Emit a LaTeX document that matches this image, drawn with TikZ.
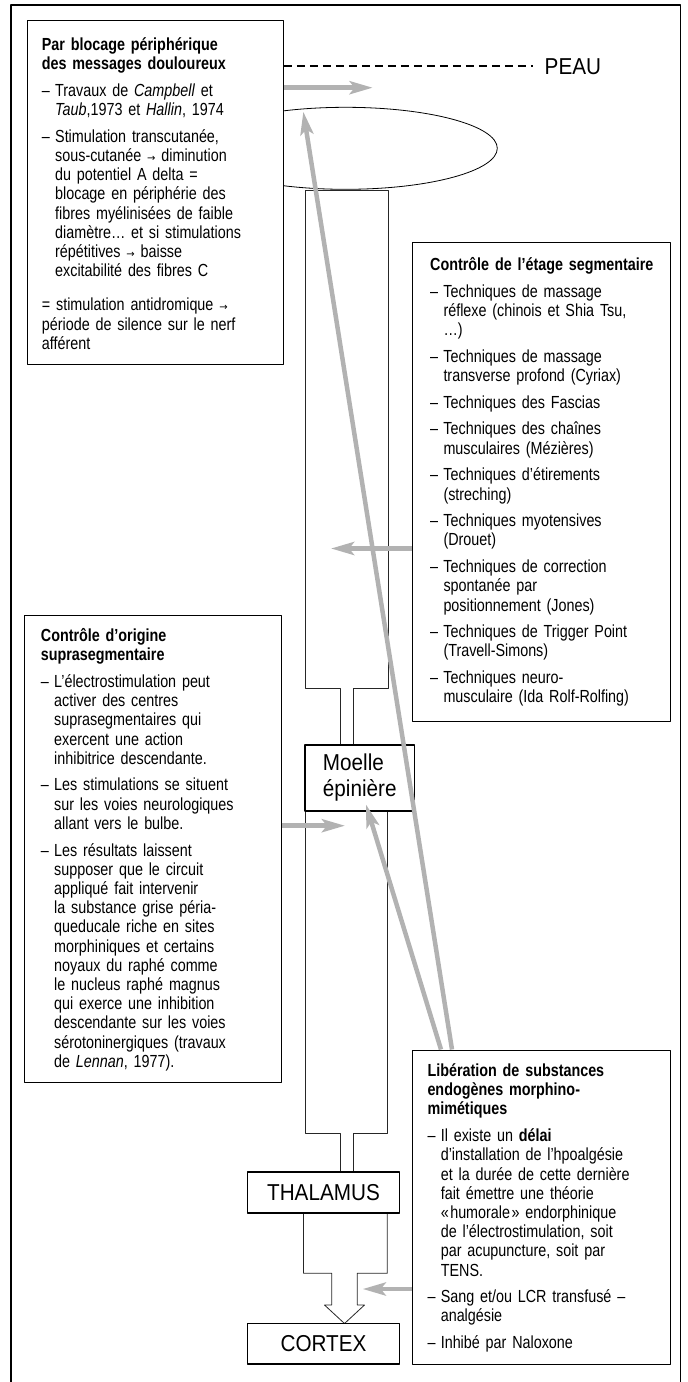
\documentclass[tikz,border=0pt]{standalone}
\usepackage{fontspec}
\setmainfont{Liberation Sans}[FakeStretch=0.82]
\newfontfamily\labelfont{Liberation Sans}[FakeStretch=0.9]
\newfontfamily\arrowfont{DejaVu Sans}
\usetikzlibrary{arrows.meta,positioning}

% list item with hanging dash
\newcommand{\itm}[1]{\par\vspace{7.5pt}\hangindent=13.3pt\hangafter=1\noindent\makebox[13.3pt][l]{–}#1\par}
\newcommand{\arr}{{\arrowfont\fontsize{10}{10}\selectfont →}}

\begin{document}
\begin{tikzpicture}[x=1pt, y=-1pt, line cap=round, line join=round,
  panel/.style={draw, fill=white, line width=1.1pt, inner sep=0pt, anchor=north west},
  txt/.style={anchor=base west, text width=250pt, align=left, inner sep=0pt, font=\fontsize{17.5}{19.2}\selectfont},
  organ/.style={draw, fill=white, line width=1.1pt, inner sep=0pt, align=left, font=\labelfont\fontsize{23}{26}\selectfont},
  garrow/.style={draw=black!30, line width=4.5pt, line cap=butt, -{Stealth[length=23pt,width=13pt,inset=5pt]}},
  tube/.style={draw=black!85, line width=0.8pt}]

\useasboundingbox (0,0) rectangle (688,1382);

% Outer frame
\draw[line width=1.6pt] (11,1382) -- (11,5) -- (680.5,5) -- (680.5,1382);

% Skin receptor field (left part hidden by the first panel)
\draw[line width=0.8pt] (345.6,148.3) ellipse [x radius=151.7pt, y radius=41pt];

% Panels
\node[panel, minimum width=256.2pt, minimum height=344pt] (b1) at (26.5,20) {};
\node[panel, minimum width=257.5pt, minimum height=479pt] (b2) at (412,242) {};
\node[panel, minimum width=257.5pt, minimum height=314.5pt] (b3) at (412,1049.5) {};
\node[panel, minimum width=256.5pt, minimum height=467pt] (b4) at (24,615) {};

% Panel texts
\node[txt] (t1) at ([shift={(15.2,30.5)}]b1.north west) {%
\textbf{Par blocage périphérique\newline des messages douloureux}
\itm{Travaux de \textit{Campbell} et\newline \textit{Taub},1973 et \textit{Hallin}, 1974}
\itm{Stimulation transcutanée,\newline sous-cutanée \arr{} diminution\newline du potentiel A delta =\newline blocage en périphérie des\newline fibres myélinisées de faible\newline diamètre… et si stimulations\newline répétitives \arr{} baisse\newline excitabilité des fibres C}
\vspace{15pt}\noindent = stimulation antidromique \arr{}\newline période de silence sur le nerf\newline afférent};

\node[txt] (t2) at ([shift={(18,28.5)}]b2.north west) {%
\textbf{Contrôle de l’étage segmentaire}
\itm{Techniques de massage\newline réflexe (chinois et Shia Tsu,\newline …)}
\itm{Techniques de massage\newline transverse profond (Cyriax)}
\itm{Techniques des Fascias}
\itm{Techniques des chaînes\newline musculaires (Mézières)}
\itm{Techniques d’étirements\newline (streching)}
\itm{Techniques myotensives\newline (Drouet)}
\itm{Techniques de correction\newline spontanée par\newline positionnement (Jones)}
\itm{Techniques de Trigger Point\newline (Travell-Simons)}
\itm{Techniques neuro-\newline musculaire (Ida Rolf-Rolfing)}};

\node[txt] (t3) at ([shift={(15.3,27)}]b3.north west) {%
\textbf{Libération de substances\newline endogènes morphino-\newline mimétiques}
\itm{Il existe un \textbf{délai}\newline d’installation de l’hpoalgésie\newline et la durée de cette dernière\newline fait émettre une théorie\newline «\hspace{1.5pt}humorale\hspace{1.5pt}» endorphinique\newline de l’électrostimulation, soit\newline par acupuncture, soit par\newline TENS.}
\itm{Sang et/ou LCR transfusé –\newline analgésie}
\itm{Inhibé par Naloxone}};

\node[txt] (t4) at ([shift={(16.7,26.5)}]b4.north west) {%
\textbf{Contrôle d’origine\newline suprasegmentaire}
\itm{L’électrostimulation peut\newline activer des centres\newline suprasegmentaires qui\newline exercent une action\newline inhibitrice descendante.}
\itm{Les stimulations se situent\newline sur les voies neurologiques\newline allant vers le bulbe.}
\itm{Les résultats laissent\newline supposer que le circuit\newline appliqué fait intervenir\newline la substance grise péria-\newline queducale riche en sites\newline morphiniques et certains\newline noyaux du raphé comme\newline le nucleus raphé magnus\newline qui exerce une inhibition\newline descendante sur les voies\newline sérotoninergiques (travaux\newline de \textit{Lennan}, 1977).}};

% Skin line
\coordinate (peauend) at (533.3,65.7);
\draw[line width=2.2pt, line cap=butt, dash pattern=on 8pt off 5pt] (b1.east |- peauend) -- (peauend);
\node[anchor=base west, inner sep=0pt, font=\labelfont\fontsize{23}{26}\selectfont] (peau) at (544.5,74.2) {PEAU};

% Tubes: nerve, spinal cord, thalamus -> cortex
\draw[tube] (340,745) -- (340,688.3) -- (305.7,688.3) -- (305.7,190) -- (388,190) -- (388,688.3) -- (353,688.3) -- (353,745);
\draw[tube] (340,1172) -- (340,1133.3) -- (305,1133.3) -- (305,811);
\draw[tube] (353,1172) -- (353,1133.3) -- (387,1133.3) -- (387,811);
\draw[tube] (303.5,1213) -- (303.5,1273.3) -- (331.7,1273.3) -- (331.7,1305) -- (324.5,1305)
  -- (344.5,1323.5) -- (364.5,1305) -- (357.3,1305) -- (357.3,1273.3) -- (387.3,1273.3) -- (387.3,1213);

% Relay boxes
\node[organ, minimum width=109.5pt, minimum height=66pt] (moelle) at (359.75,778) {Moelle\\épinière};
\node[organ, minimum width=152pt, minimum height=41pt] (thal) at (323.5,1192.5) {THALAMUS};
\node[organ, minimum width=152pt, minimum height=40.5pt] (cortex) at (323.5,1343.75) {CORTEX};

% Gray action arrows
\coordinate (peautip) at (372.7,87.7);
\coordinate (skintip) at (303.3,111.7);
\coordinate (segtip) at (331,548.5);
\coordinate (supratip) at (345,825.7);
\coordinate (cortip) at (362.7,1289);
\draw[garrow] (b1.east |- peautip) -- (peautip);
\draw[garrow] ([xshift=40pt]b3.north west) -- (skintip);
\draw[garrow] ([xshift=29pt]b3.north west) -- ([shift={(6.25,-7)}]moelle.south);
\draw[garrow] (b2.west |- segtip) -- (segtip);
\draw[garrow] (b4.east |- supratip) -- (supratip);
\draw[garrow] (b3.west |- cortip) -- (cortip);

\end{tikzpicture}
\end{document}
